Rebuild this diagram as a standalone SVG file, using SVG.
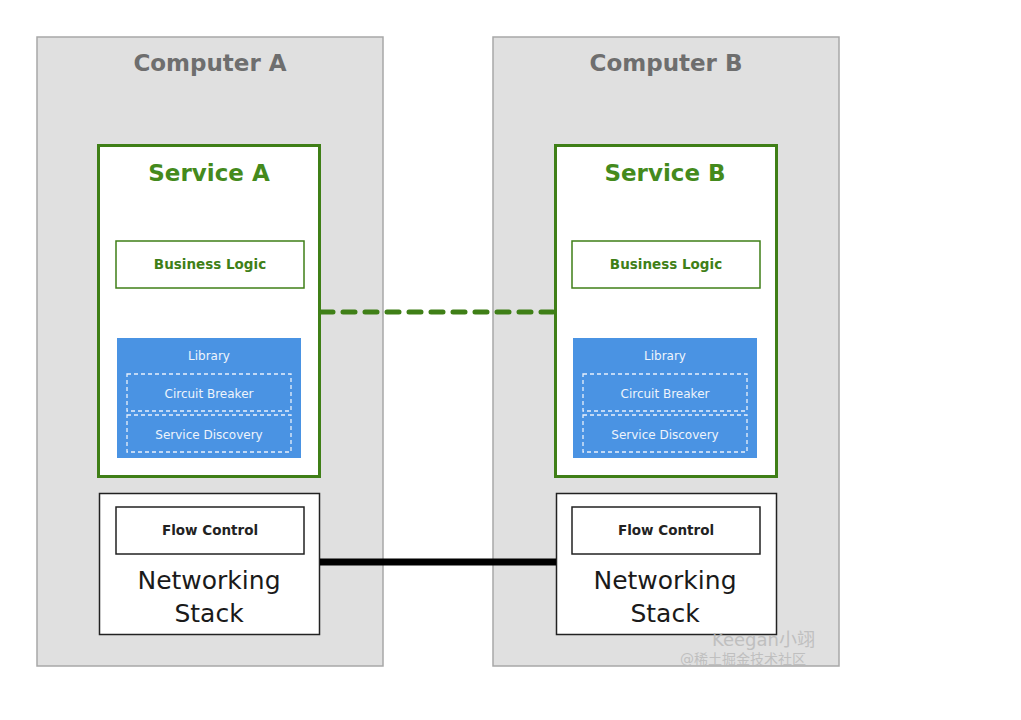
<svg xmlns="http://www.w3.org/2000/svg" width="1021" height="720" viewBox="0 0 1021 720">
<style>
.comp{fill:#e0e0e0;stroke:#a8a8a8;stroke-width:1.5}
.ctitle{font-family:"DejaVu Sans",sans-serif;font-weight:bold;font-size:23px;fill:#6e6e6e;text-anchor:middle}
.svc{fill:#fff;stroke:#3f7f17;stroke-width:3}
.stitle{font-family:"DejaVu Sans",sans-serif;font-weight:bold;font-size:23px;fill:#448a1c;text-anchor:middle}
.bl{fill:#fff;stroke:#3f7f17;stroke-width:1.5}
.bltext{font-family:"DejaVu Sans",sans-serif;font-weight:bold;font-size:13.5px;fill:#3f7f17;text-anchor:middle}
.lib{fill:#4a93e3}
.libtext{font-family:"DejaVu Sans",sans-serif;font-size:12px;fill:#eef4fc;text-anchor:middle}
.dash{fill:none;stroke:#e8f0fb;stroke-width:1.3;stroke-dasharray:4 3}
.net{fill:#fff;stroke:#222;stroke-width:1.5}
.fctext{font-family:"DejaVu Sans",sans-serif;font-weight:bold;font-size:13.5px;fill:#222;text-anchor:middle}
.nettext{font-family:"DejaVu Sans",sans-serif;font-size:25px;fill:#1a1a1a;text-anchor:middle}
.wm{font-family:"DejaVu Sans","Noto Sans CJK SC",sans-serif;fill:#b8b8b8;text-anchor:start}
</style>
<rect width="1021" height="720" fill="#fff"/>
<g id="computer-a">
<rect class="comp" x="37" y="37" width="346" height="629"/>
<text class="ctitle" x="210" y="71">Computer A</text>
</g>
<g id="computer-b">
<rect class="comp" x="493" y="37" width="346" height="629"/>
<text class="ctitle" x="666" y="71">Computer B</text>
</g>
<g id="service-a">
<rect class="svc" x="98.5" y="145.5" width="221" height="331"/>
<text class="stitle" x="209" y="181">Service A</text>
<rect class="bl" x="116" y="241" width="188" height="47"/>
<text class="bltext" x="210" y="269">Business Logic</text>
<rect class="lib" x="117" y="338" width="184" height="120"/>
<text class="libtext" x="209" y="360">Library</text>
<rect class="dash" x="127" y="374" width="164" height="37"/>
<text class="libtext" x="209" y="398">Circuit Breaker</text>
<rect class="dash" x="127" y="415" width="164" height="37"/>
<text class="libtext" x="209" y="439">Service Discovery</text>
</g>
<g id="service-b">
<rect class="svc" x="555.5" y="145.5" width="221" height="331"/>
<text class="stitle" x="665" y="181">Service B</text>
<rect class="bl" x="572" y="241" width="188" height="47"/>
<text class="bltext" x="666" y="269">Business Logic</text>
<rect class="lib" x="573" y="338" width="184" height="120"/>
<text class="libtext" x="665" y="360">Library</text>
<rect class="dash" x="583" y="374" width="164" height="37"/>
<text class="libtext" x="665" y="398">Circuit Breaker</text>
<rect class="dash" x="583" y="415" width="164" height="37"/>
<text class="libtext" x="665" y="439">Service Discovery</text>
</g>
<g id="networking-a">
<rect class="net" x="99.5" y="493.5" width="220" height="141"/>
<rect class="net" x="116" y="507" width="188" height="47"/>
<text class="fctext" x="210" y="535">Flow Control</text>
<text class="nettext" x="209" y="589">Networking</text>
<text class="nettext" x="209" y="622">Stack</text>
</g>
<g id="networking-b">
<rect class="net" x="556.5" y="493.5" width="220" height="141"/>
<rect class="net" x="572" y="507" width="188" height="47"/>
<text class="fctext" x="666" y="535">Flow Control</text>
<text class="nettext" x="665" y="589">Networking</text>
<text class="nettext" x="665" y="622">Stack</text>
</g>
<g id="connectors">
<line x1="321" y1="312" x2="554" y2="312" stroke="#3f7f17" stroke-width="5" stroke-dasharray="12 10" stroke-linecap="round"/>
<line x1="320" y1="562" x2="556" y2="562" stroke="#000" stroke-width="7"/>
</g>
<g id="watermark" opacity="0.8">
<text class="wm" x="712" y="646" font-size="18">Keegan小翊</text>
<text class="wm" x="680" y="664" font-size="14">@稀土掘金技术社区</text>
</g>
</svg>
